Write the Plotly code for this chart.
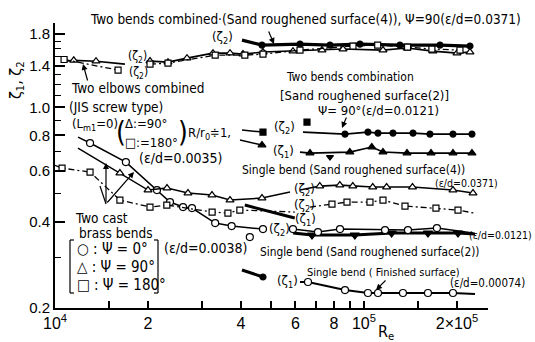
import math
import plotly.graph_objects as go

# ---------------- data (Re, zeta) ----------------
# Two bends combined, sand roughened (4), psi=90, zeta2 (filled circles)
s1_re = [40290, 46760, 62080, 77620, 97060, 130750, 176200, 220300]
s1_z = [1.717, 1.650, 1.663, 1.650, 1.663, 1.650, 1.650, 1.637]

# Two elbows combined (JIS screw type) zeta2: triangles (90 deg), squares (180 deg)
elb90_l_re = [10773, 11500, 13575, 16840]
elb90_l_z = [1.45, 1.46, 1.45, 1.416]
elb180_l_re = [10700, 16000]
elb180_l_z = [1.47, 1.35]
elb90_r_re = [20300, 23210, 26740, 32460, 36850, 40590, 47110, 58910, 73130, 85530, 115220, 137800, 167200, 200000, 220300]
elb90_r_z = [1.451, 1.439, 1.486, 1.547, 1.547, 1.535, 1.560, 1.572, 1.585, 1.598, 1.585, 1.611, 1.572, 1.547, 1.560]
elb180_r_re = [20300, 23210, 32990, 41150, 47110, 62080, 92130, 110770, 138360, 165900, 204500]
elb180_r_z = [1.416, 1.428, 1.522, 1.522, 1.535, 1.585, 1.637, 1.650, 1.624, 1.598, 1.585]

# Two bends combination, sand roughened (2), psi=90: zeta2 filled squares, zeta1 filled triangles
tb2_z2_l_re = [40290, 47110]
tb2_z2_l_z = [0.834, 0.8207]
tb2_z2_x_re = [65400]
tb2_z2_x_z = [0.8895]
tb2_z2_re = [63480, 86810, 103000, 111000, 124100, 144100, 163500, 194100, 223600]
tb2_z2_z = [0.8207, 0.8077, 0.8207, 0.8142, 0.8142, 0.8142, 0.8077, 0.8077, 0.8077]
tb2_z1_l_re = [39700, 46760]
tb2_z1_l_z = [0.77, 0.7398]
tb2_z1_re = [62080, 66880, 89980, 105970, 115200, 137800, 164800, 194100, 223600]
tb2_z1_z = [0.6991, 0.6935, 0.6991, 0.7278, 0.6991, 0.6935, 0.6935, 0.6935, 0.6935]
tb2_z1_x_re = [77620]
tb2_z1_x_z = [0.6714]

# Two cast brass bends (eps/d=0.0038)
br0_re = [11870, 12985, 16960, 21380, 23560, 25970, 27760, 32990, 37300, 47110]
br0_z = [0.7887, 0.7517, 0.6452, 0.5154, 0.4681, 0.4497, 0.4461, 0.3954, 0.3859, 0.3768]
br0_x_re = [42710]
br0_x_z = [0.3533]
br90_re = [11870, 16220, 20000, 23040, 26940, 32220, 36850, 46760, 57610]
br90_z = [0.7218, 0.5906, 0.5154, 0.5236, 0.5032, 0.4951, 0.4757, 0.4833, 0.5072]
br180_re = [10000, 10540, 12985, 16220, 20300, 23010, 32250, 36280, 39650, 59690]
br180_z = [0.6283, 0.6148, 0.5954, 0.4757, 0.4497, 0.4570, 0.4320, 0.4286, 0.4390, 0.4320]

# Single bend, sand roughened (4) (eps/d=0.0371)
sb4_z2_re = [62080, 71940, 83530, 92020, 106760, 118370, 143560, 194100, 225300]
sb4_z2_z = [0.5154, 0.5321, 0.5364, 0.5321, 0.5279, 0.5279, 0.5279, 0.5154, 0.5032]
sb4_sq_re = [66880, 78780, 88110, 104570, 115220, 135770, 170970, 201500, 227000]
sb4_sq_z = [0.4497, 0.4607, 0.4681, 0.4681, 0.4757, 0.4533, 0.4461, 0.4390, 0.4286]
sb4_z1_re = [41150, 59690]
sb4_z1_z = [0.457, 0.4117]

# Single bend, sand roughened (2) (eps/d=0.0121)
sb2_z2_re = [58910, 70980, 83640, 117000, 138800, 172200, 225300]
sb2_z2_z = [0.3768, 0.3678, 0.3768, 0.3738, 0.3738, 0.3798, 0.3649]
sb2_z1_re = [59000, 67880, 93410, 122850, 161100, 201500, 228700]
sb2_z1_z = [0.3649, 0.3590, 0.3590, 0.3649, 0.3649, 0.3649, 0.3619]

# Single bend, finished surface (eps/d=0.00074)
fin_l_re = [40290, 47110]
fin_l_z = [0.2713, 0.2565]
fin_re = [62080, 65890, 86810, 103000, 111000, 133700, 161100, 194100, 228700]
fin_z = [0.2464, 0.2464, 0.2309, 0.2256, 0.2256, 0.2256, 0.2256, 0.2256, 0.2238]

x_tickvals = [1e4, 2e4, 4e4, 6e4, 8e4, 1e5, 2e5]
x_ticktext = ["10<sup>4</sup>", "2", "4", "6", "8", "10<sup>5</sup>", "2×10<sup>5</sup>"]
x_minor = [1.5e4, 3e4, 5e4, 7e4, 9e4, 1.5e5]
y_tickvals = [0.2, 0.4, 0.6, 0.8, 1.0, 1.4, 1.8]
y_ticktext = ["0.2", "0.4", "0.6", "0.8", "1.0", "1.4", "1.8"]
y_minor = [0.3, 0.5, 0.7, 0.9, 1.1, 1.2, 1.3, 1.5, 1.6, 1.7]

# ---------------- figure ----------------
W, H = 535, 342
ML, MR, MT, MB = 55, 47, 23, 34
PW, PH = W - ML - MR, H - MT - MB
TXT = "DejaVu Sans Condensed, Liberation Sans, sans-serif"
NUM = "Liberation Sans, Arial, sans-serif"

fig = go.Figure()


def P(px, py):
    return (px - ML) / PW, (H - MB - py) / PH


def series(re, z, symbol="circle", fill="white", lw=1.3, dash="solid", msize=7,
           skip=(), mode="lines+markers"):
    op = [0 if (i in skip or (i - len(re)) in skip) else 1 for i in range(len(re))]
    fig.add_trace(go.Scatter(
        x=re, y=z, mode=mode, showlegend=False, cliponaxis=False,
        line=dict(color="black", width=lw, dash=dash),
        marker=dict(symbol=symbol, size=msize, color=fill, opacity=op,
                    line=dict(color="black", width=1.2)),
    ))


DD = "6px,3px,2px,3px"

series(s1_re, s1_z, "circle", "black", lw=3.2, skip=(0,), msize=6)
series(elb90_l_re, elb90_l_z, "triangle-up", "white", lw=1.6, skip=(0, -1))
series(elb180_l_re, elb180_l_z, "square", "white", lw=1.3, dash=DD, msize=6)
series(elb90_r_re, elb90_r_z, "triangle-up", "white", lw=1.6)
series(elb180_r_re, elb180_r_z, "square", "white", lw=1.3, dash=DD, msize=6)

series(tb2_z2_l_re, tb2_z2_l_z, "square", "black", lw=1.5, skip=(0,), msize=6)
series(tb2_z2_x_re, tb2_z2_x_z, "square", "black", msize=6, mode="markers")
series(tb2_z2_re, tb2_z2_z, "circle", "black", lw=1.6, skip=(0,), msize=6)
series(tb2_z1_l_re, tb2_z1_l_z, "triangle-up", "black", lw=1.5, skip=(0,), msize=7)
series(tb2_z1_re, tb2_z1_z, "triangle-up", "black", lw=1.6, skip=(0,), msize=7)
series(tb2_z1_x_re, tb2_z1_x_z, "triangle-down", "black", msize=6, mode="markers")

series(br0_re, br0_z, "circle", "white", lw=1.5, skip=(0,))
series(br0_x_re, br0_x_z, "circle", "white", mode="markers")
series(br90_re, br90_z, "triangle-up", "white", lw=1.5, skip=(0, -1))
series(br180_re, br180_z, "square", "white", lw=1.3, dash=DD, msize=6, skip=(0, -1))

series(sb4_z2_re, sb4_z2_z, "triangle-up", "white", lw=1.6, skip=(0,))
series(sb4_sq_re, sb4_sq_z, "square", "white", lw=1.3, dash=DD, msize=6, skip=(0, -1))
series(sb4_z1_re, sb4_z1_z, "circle", "black", lw=3.0, mode="lines")

series(sb2_z1_re, sb2_z1_z, "triangle-down", "black", lw=3.0, skip=(0, -1), msize=8)
series(sb2_z2_re, sb2_z2_z, "circle", "white", lw=1.5, skip=(-1,))

series(fin_l_re, fin_l_z, "circle", "black", lw=3.0, skip=(0,), msize=6)
series(fin_re, fin_z, "circle", "white", lw=2.0, skip=(0, -1))

ann = []


def T(text, px, py, size=13, anchor="left", font=TXT, angle=0):
    x, y = P(px, py)
    ann.append(dict(text=text, x=x, y=y, xref="paper", yref="paper", showarrow=False,
                    xanchor=anchor, yanchor="middle", textangle=angle,
                    font=dict(family=font, size=size, color="black")))


def A(hx, hy, tx, ty, head=2):
    x, y = P(hx, hy)
    ann.append(dict(text="", x=x, y=y, xref="paper", yref="paper", showarrow=True,
                    ax=tx - hx, ay=ty - hy, arrowhead=head, arrowsize=1, arrowwidth=1.2,
                    arrowcolor="black"))


Z1 = "(ζ<sub>1</sub>)"
Z2 = "(ζ<sub>2</sub>)"

T("Two bends combined·(Sand roughened surface(4)), Ψ=90(ε/d=0.0371)", 88, 19, 13.5)
T(Z2, 222, 37, 13, "center")
T(Z2, 137, 57, 12, "center")
T(Z2, 138, 73, 12, "center")
T("Two elbows combined", 69, 88, 13.5)
T("(JIS screw type)", 67, 107, 13.5)
T("(L<sub>m1</sub>=0)", 70, 124, 13)
T("(", 114, 132, 28)
T("Δ:=90°", 123, 123, 13)
T("□:=180°", 123, 142, 13)
T(")", 176, 132, 28)
T("R/r<sub>0</sub>≑1,", 186, 133, 13)
T("(ε/d=0.0035)", 137, 158, 14)
T("Two bends combination", 284, 77, 12)
T("[Sand roughened surface(2)]", 278, 95, 13)
T("Ψ= 90°(ε/d=0.0121)", 316, 111, 13)
T(Z2, 284, 127, 13, "center")
T(Z1, 283, 151, 13, "center")
T("Single bend (Sand roughened surface(4))", 240, 170, 12)
T("(ε/d=0.0371)", 433, 183, 10.5)
T(Z2, 304, 189, 13, "center")
T(Z2, 304, 205, 13, "center")
T(Z1, 305, 220, 13, "center")
T(Z2, 279, 229, 13, "center")
T("(ε/d=0.0121)", 534, 235, 10.5, "right")
T("Single bend (Sand roughened surface(2))", 258, 252, 11.8)
T("Single bend ( Finished surface)", 305, 272, 11)
T("(ε/d=0.00074)", 527, 283, 11.5, "right")
T(Z1, 287, 281, 13, "center")
T("Two cast", 73, 218, 13.5)
T("brass bends", 77, 233, 13.5)
T("○ : Ψ = 0°", 75, 249, 15)
T("△ : Ψ = 90°", 75, 267, 15)
T("□ : Ψ = 180°", 75, 285, 15)
T("(ε/d=0.0038)", 162, 248, 14)
T("ζ<sub>1</sub>, ζ<sub>2</sub>", 17, 80, 16, "center", angle=-90)
T("R<sub>e</sub>", 386, 332, 16, "center")

A(83, 64, 88, 82)
A(106, 163, 106, 204)
A(134, 172, 106, 204)
A(342, 128, 347, 116)
A(376, 290, 387, 279)
A(274, 44, 268, 30)

shapes = []


def line(x0, y0, x1, y1, w=1.2):
    a, b = P(x0, y0)
    c, d = P(x1, y1)
    shapes.append(dict(type="line", xref="paper", yref="paper", x0=a, y0=b, x1=c, y1=d,
                       line=dict(color="black", width=w)))


line(100, 186, 106, 204)
# legend brackets
line(70, 240, 70, 293)
line(70, 240, 74, 240)
line(70, 293, 74, 293)
line(158, 240, 158, 293)
line(158, 240, 154, 240)
line(158, 293, 154, 293)

fig.update_layout(
    width=W, height=H, autosize=False,
    margin=dict(l=ML, r=MR, t=MT, b=MB, pad=0),
    paper_bgcolor="white", plot_bgcolor="white",
    annotations=ann, shapes=shapes,
    xaxis=dict(type="log", range=[4, math.log10(2.52e5)], showline=True, linecolor="black",
               linewidth=2, ticks="inside", ticklen=7, tickwidth=1.5, tickcolor="black",
               tickvals=x_tickvals, ticktext=x_ticktext, showgrid=False, zeroline=False,
               tickfont=dict(family=NUM, size=16, color="black"), automargin=False,
               minor=dict(tickvals=x_minor, ticks="inside", ticklen=7, tickwidth=1.5,
                          tickcolor="black", showgrid=False)),
    yaxis=dict(type="log", range=[math.log10(0.2), math.log10(1.97)], showline=True,
               linecolor="black", linewidth=2, ticks="inside", ticklen=10, tickwidth=1.5,
               tickcolor="black", tickvals=y_tickvals, ticktext=y_ticktext, showgrid=False,
               zeroline=False, tickfont=dict(family=NUM, size=15, color="black"),
               automargin=False,
               minor=dict(tickvals=y_minor, ticks="inside", ticklen=6, tickwidth=1.2,
                          tickcolor="black", showgrid=False)),
)

fig.write_html("out.html")
